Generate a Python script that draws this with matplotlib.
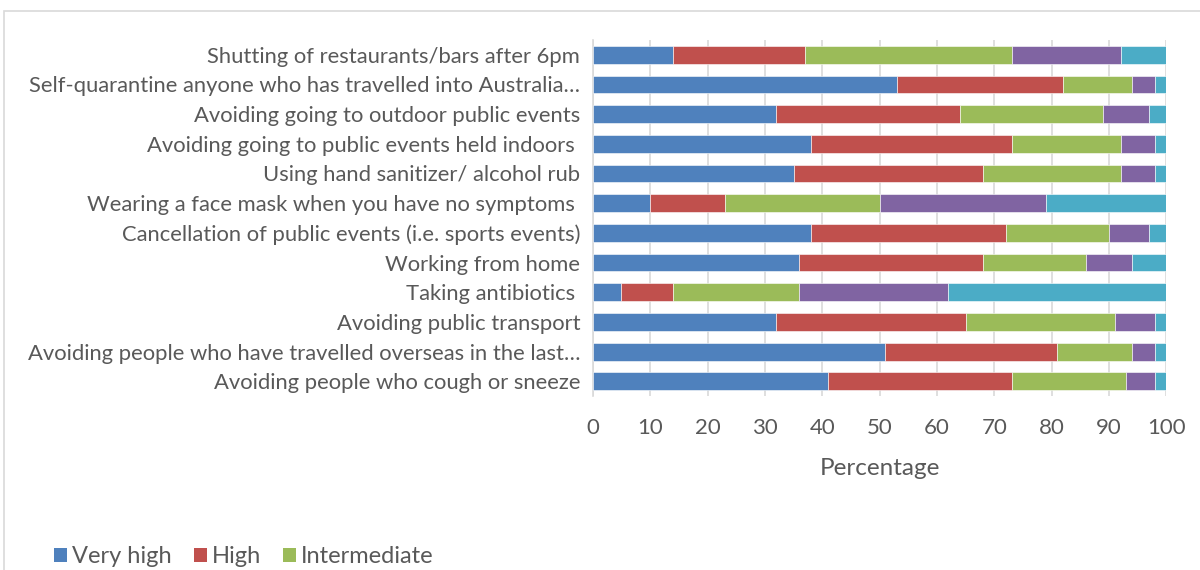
import matplotlib
matplotlib.use("Agg")
import matplotlib.pyplot as plt
from matplotlib.patches import Rectangle, Patch
import numpy as np

categories = [
    "Shutting of restaurants/bars after 6pm",
    "Self-quarantine anyone who has travelled into Australia…",
    "Avoiding going to outdoor public events",
    "Avoiding going to public events held indoors ",
    "Using hand sanitizer/ alcohol rub",
    "Wearing a face mask when you have no symptoms ",
    "Cancellation of public events (i.e. sports events)",
    "Working from home",
    "Taking antibiotics ",
    "Avoiding public transport",
    "Avoiding people who have travelled overseas in the last…",
    "Avoiding people who cough or sneeze",
]
very_high    = [14, 53, 32, 38, 35, 10, 38, 36, 5, 32, 51, 41]
high         = [23, 29, 32, 35, 33, 13, 34, 32, 9, 33, 30, 32]
intermediate = [36, 12, 25, 19, 24, 27, 18, 18, 22, 26, 13, 20]
low          = [19, 4, 8, 6, 6, 29, 7, 8, 26, 7, 4, 5]
very_low     = [8, 2, 3, 2, 2, 21, 3, 6, 38, 2, 2, 2]
series_names = ["Very high", "High", "Intermediate", "Low", "Very low"]
colors = ["#4F81BD", "#C0504D", "#9BBB59", "#8064A2", "#4BACC6"]
xticks = list(range(0, 101, 10))

plt.rcParams['font.family'] = ['Lato', 'DejaVu Sans']
text_color = "#595959"

fig = plt.figure(figsize=(12, 5.7), dpi=100)
ax = fig.add_axes([0.494, 0.305, 0.478, 0.625])

y = np.arange(len(categories))
left = np.zeros(len(categories))
for name, vals, c in zip(series_names, [very_high, high, intermediate, low, very_low], colors):
    vals = np.array(vals, dtype=float)
    ax.barh(y, vals, left=left, height=0.6, color=c, edgecolor="white",
            linewidth=0.4, label=name, zorder=3)
    left += vals

ax.set_ylim(len(categories) - 0.5, -0.5)
ax.set_xlim(0, 100)
ax.set_yticks(y)
ax.set_yticklabels(categories, fontsize=15.8, color=text_color)
ax.set_xticks(xticks)
ax.set_xticklabels([str(t) for t in xticks], fontsize=16, color=text_color)
ax.tick_params(axis='y', length=0, pad=9)
ax.tick_params(axis='x', length=0, pad=16)
ax.set_xlabel("Percentage", fontsize=17.5, color=text_color, labelpad=14)
ax.grid(axis='x', color="#d9d9d9", linewidth=1.2, zorder=0)
for s in ["top", "right", "bottom"]:
    ax.spines[s].set_visible(False)
ax.spines["left"].set_color("#d9d9d9")
ax.spines["left"].set_linewidth(1.2)

# chart frame
fig.patches.append(Rectangle((4 / 1200, -0.1), 1.2, 1 - 11 / 570 + 0.1,
                             transform=fig.transFigure, fill=False,
                             edgecolor="#d9d9d9", linewidth=1.2))

leg_handles = [Patch(facecolor=c) for c in colors[:3]]
fig.legend(leg_handles, series_names[:3], loc="center left",
           bbox_to_anchor=(0.045, 0.023), ncol=3, frameon=False,
           fontsize=17, handlelength=0.55, handleheight=0.55,
           handletextpad=0.2, columnspacing=0.95, labelcolor=text_color,
           borderaxespad=0, borderpad=0)

fig.savefig("out.png", dpi=100)
